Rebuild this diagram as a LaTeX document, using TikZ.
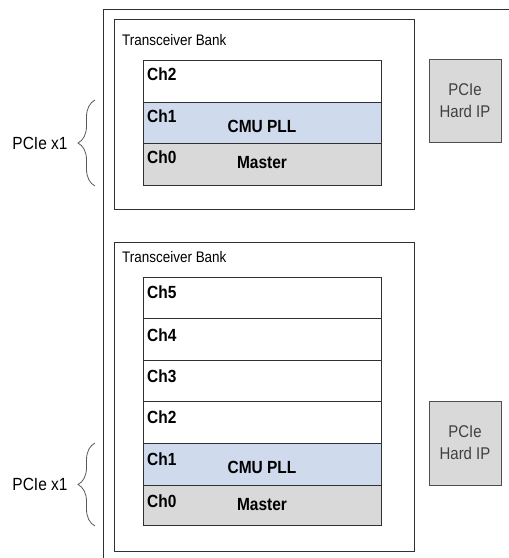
\documentclass[tikz,border=0pt]{standalone}
\usepackage{fontspec}
\setmainfont{Liberation Sans}[FakeStretch=0.88]
\usetikzlibrary{decorations.pathreplacing}
\definecolor{edge}{HTML}{303030}
\definecolor{pllblue}{HTML}{CFDAEC}
\definecolor{mastergray}{HTML}{D9D9D9}
\definecolor{iptext}{HTML}{404040}
\tikzset{
  frame/.style={draw=edge, line width=0.9pt},
  chrow/.style={draw=edge, line width=0.9pt, fill=white},
  chlabel/.style={anchor=west, inner sep=0pt, font=\fontsize{17.6}{19}\selectfont\bfseries},
  rowtext/.style={inner sep=0pt, font=\fontsize{17.6}{19}\selectfont\bfseries},
  banklabel/.style={anchor=west, inner sep=0pt, font=\fontsize{15.3}{17}\selectfont},
  hardip/.style={draw=edge!85, line width=0.9pt, fill=mastergray, text=iptext,
    align=center, inner sep=0pt, font=\fontsize{17}{22}\selectfont},
  pcielabel/.style={inner sep=0pt, font=\fontsize{17.6}{19}\selectfont},
  curly/.style={draw=edge!80, line width=0.8pt,
    decorate, decoration={brace, mirror, amplitude=17pt}},
}
\begin{document}
\begin{tikzpicture}[x=1pt, y=-1pt]
\useasboundingbox (0,0) rectangle (509,558);

% device outline, open to the right and bottom
\draw[frame] (103,558) -- (103,9) -- (509,9);

% ---------- upper transceiver bank ----------
\draw[frame] (114,19) rectangle (414,209);
\node[banklabel] (bankA) at (122,40) {Transceiver Bank};
\draw[chrow] (143,60) rectangle (381,102);
\draw[chrow, fill=pllblue] (143,102) rectangle (381,143);
\draw[chrow, fill=mastergray] (143,143) rectangle (381,185);
\node[chlabel] (a2) at (147,74) {Ch2};
\node[chlabel] (a1) at (147,116) {Ch1};
\node[chlabel] (a0) at (147,157) {Ch0};
\node[rowtext] (apll) at (262,126) {CMU PLL};
\node[rowtext] (amaster) at (262,163) {Master};
\node[hardip, minimum width=72pt, minimum height=83pt] (ipA) at (465,100.5) {PCIe\\Hard IP};
\coordinate (braceAtop) at (95,100);
\coordinate (braceAbot) at (95,186);
\draw[curly] (braceAtop) -- (braceAbot);
\node[pcielabel] (pcieA) at (40,143) {PCIe x1};

% ---------- lower transceiver bank ----------
\draw[frame] (114,242.5) rectangle (414,551);
\node[banklabel] (bankB) at (122,257.5) {Transceiver Bank};
\draw[chrow] (143,277.5) rectangle (381,318.5);
\draw[chrow] (143,318.5) rectangle (381,360);
\draw[chrow] (143,360) rectangle (381,401.5);
\draw[chrow] (143,401.5) rectangle (381,443.5);
\draw[chrow, fill=pllblue] (143,443.5) rectangle (381,485);
\draw[chrow, fill=mastergray] (143,485) rectangle (381,525.5);
\node[chlabel] (b5) at (147,292.5) {Ch5};
\node[chlabel] (b4) at (147,335) {Ch4};
\node[chlabel] (b3) at (147,376) {Ch3};
\node[chlabel] (b2) at (147,417) {Ch2};
\node[chlabel] (b1) at (147,459) {Ch1};
\node[chlabel] (b0) at (147,501) {Ch0};
\node[rowtext] (bpll) at (262,467) {CMU PLL};
\node[rowtext] (bmaster) at (262,505) {Master};
\node[hardip, minimum width=72pt, minimum height=84pt] (ipB) at (465,443) {PCIe\\Hard IP};
\coordinate (braceBtop) at (95,443);
\coordinate (braceBbot) at (95,526);
\draw[curly] (braceBtop) -- (braceBbot);
\node[pcielabel] (pcieB) at (40,484.5) {PCIe x1};
\end{tikzpicture}
\end{document}
